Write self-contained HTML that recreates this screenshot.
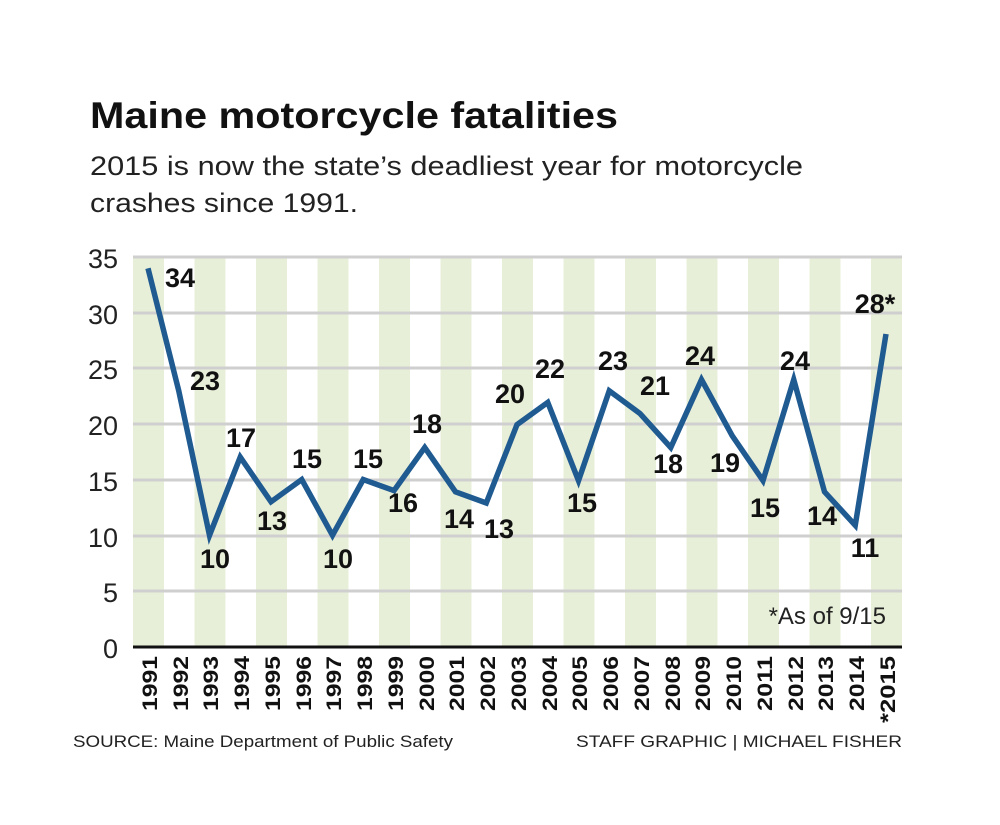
<!DOCTYPE html>
<html><head><meta charset="utf-8"><style>
body{margin:0;background:#fff;}
svg{display:block;font-family:"Liberation Sans",sans-serif;}
</style></head><body>
<svg width="1000" height="825" viewBox="0 0 1000 825">
<text x="90" y="128" font-size="37" font-weight="bold" fill="#111" textLength="528" lengthAdjust="spacingAndGlyphs">Maine motorcycle fatalities</text>
<text x="90" y="175" font-size="27" fill="#222" textLength="713" lengthAdjust="spacingAndGlyphs">2015 is now the state’s deadliest year for motorcycle</text>
<text x="90" y="212" font-size="27" fill="#222" textLength="268" lengthAdjust="spacingAndGlyphs">crashes since 1991.</text>
<g fill="#e8efd8">
<rect x="133" y="256" width="31" height="391"/><rect x="194.5" y="256" width="31" height="391"/><rect x="256" y="256" width="31" height="391"/><rect x="317.5" y="256" width="31" height="391"/><rect x="379" y="256" width="31" height="391"/><rect x="440.5" y="256" width="31" height="391"/><rect x="502" y="256" width="31" height="391"/><rect x="563.5" y="256" width="31" height="391"/><rect x="625" y="256" width="31" height="391"/><rect x="686.5" y="256" width="31" height="391"/><rect x="748" y="256" width="31" height="391"/><rect x="809.5" y="256" width="31" height="391"/><rect x="871" y="256" width="31" height="391"/>
</g>
<g stroke="#cfcfcf" stroke-width="3">
<line x1="133" x2="902" y1="257" y2="257"/><line x1="133" x2="902" y1="313" y2="313"/><line x1="133" x2="902" y1="368" y2="368"/><line x1="133" x2="902" y1="424" y2="424"/><line x1="133" x2="902" y1="480" y2="480"/><line x1="133" x2="902" y1="536" y2="536"/><line x1="133" x2="902" y1="591" y2="591"/>
</g>
<line x1="133" x2="902" y1="647" y2="647" stroke="#111" stroke-width="3"/>
<g font-size="27" fill="#222" text-anchor="end">
<text x="118" y="268">35</text><text x="118" y="324">30</text><text x="118" y="379">25</text><text x="118" y="435">20</text><text x="118" y="491">15</text><text x="118" y="547">10</text><text x="118" y="602">5</text><text x="118" y="658">0</text>
</g>
<polyline fill="none" stroke="#1f5a91" stroke-width="5.5" stroke-linejoin="miter" points="148,268.3 178.75,390.8 209.5,535.3 240.25,457.1 271,501.8 301.75,479.5 332.5,535.3 363.25,479.5 394,490.6 424.75,447.5 455.5,491.8 486.25,503 517,424.6 547.75,402.4 578.5,480.6 609.25,390.8 640,413.5 670.75,447.5 701.5,379.6 732.25,435.8 763,480.6 793.75,379.6 824.5,491.8 855.25,525.3 886,334"/>
<g font-size="27" font-weight="bold" fill="#111" text-anchor="middle">
<text x="180" y="287">34</text><text x="205" y="390">23</text><text x="215" y="568">10</text><text x="241" y="447">17</text><text x="272" y="530">13</text><text x="307" y="468">15</text><text x="338" y="568">10</text><text x="368" y="468">15</text><text x="403" y="512">16</text><text x="427" y="433">18</text><text x="459" y="528">14</text><text x="499" y="538">13</text><text x="510" y="403">20</text><text x="550" y="378">22</text><text x="582" y="512">15</text><text x="613" y="370">23</text><text x="655" y="395">21</text><text x="668" y="473">18</text><text x="700" y="365">24</text><text x="725" y="472">19</text><text x="765" y="517">15</text><text x="795" y="370">24</text><text x="822" y="525">14</text><text x="865" y="557">11</text><text x="875" y="313">28*</text>
</g>
<text x="886" y="624" font-size="24" fill="#222" text-anchor="end">*As of 9/15</text>
<g font-size="21" font-weight="bold" fill="#111" text-anchor="end">
<text transform="translate(157,656) rotate(-90)" textLength="55" lengthAdjust="spacingAndGlyphs">1991</text>
<text transform="translate(188,656) rotate(-90)" textLength="55" lengthAdjust="spacingAndGlyphs">1992</text>
<text transform="translate(218,656) rotate(-90)" textLength="55" lengthAdjust="spacingAndGlyphs">1993</text>
<text transform="translate(249,656) rotate(-90)" textLength="55" lengthAdjust="spacingAndGlyphs">1994</text>
<text transform="translate(280,656) rotate(-90)" textLength="55" lengthAdjust="spacingAndGlyphs">1995</text>
<text transform="translate(311,656) rotate(-90)" textLength="55" lengthAdjust="spacingAndGlyphs">1996</text>
<text transform="translate(341,656) rotate(-90)" textLength="55" lengthAdjust="spacingAndGlyphs">1997</text>
<text transform="translate(372,656) rotate(-90)" textLength="55" lengthAdjust="spacingAndGlyphs">1998</text>
<text transform="translate(403,656) rotate(-90)" textLength="55" lengthAdjust="spacingAndGlyphs">1999</text>
<text transform="translate(434,656) rotate(-90)" textLength="55" lengthAdjust="spacingAndGlyphs">2000</text>
<text transform="translate(464,656) rotate(-90)" textLength="55" lengthAdjust="spacingAndGlyphs">2001</text>
<text transform="translate(495,656) rotate(-90)" textLength="55" lengthAdjust="spacingAndGlyphs">2002</text>
<text transform="translate(526,656) rotate(-90)" textLength="55" lengthAdjust="spacingAndGlyphs">2003</text>
<text transform="translate(557,656) rotate(-90)" textLength="55" lengthAdjust="spacingAndGlyphs">2004</text>
<text transform="translate(587,656) rotate(-90)" textLength="55" lengthAdjust="spacingAndGlyphs">2005</text>
<text transform="translate(618,656) rotate(-90)" textLength="55" lengthAdjust="spacingAndGlyphs">2006</text>
<text transform="translate(649,656) rotate(-90)" textLength="55" lengthAdjust="spacingAndGlyphs">2007</text>
<text transform="translate(680,656) rotate(-90)" textLength="55" lengthAdjust="spacingAndGlyphs">2008</text>
<text transform="translate(710,656) rotate(-90)" textLength="55" lengthAdjust="spacingAndGlyphs">2009</text>
<text transform="translate(741,656) rotate(-90)" textLength="55" lengthAdjust="spacingAndGlyphs">2010</text>
<text transform="translate(772,656) rotate(-90)" textLength="55" lengthAdjust="spacingAndGlyphs">2011</text>
<text transform="translate(803,656) rotate(-90)" textLength="55" lengthAdjust="spacingAndGlyphs">2012</text>
<text transform="translate(833,656) rotate(-90)" textLength="55" lengthAdjust="spacingAndGlyphs">2013</text>
<text transform="translate(864,656) rotate(-90)" textLength="55" lengthAdjust="spacingAndGlyphs">2014</text>
<text transform="translate(895,656) rotate(-90)" textLength="67" lengthAdjust="spacingAndGlyphs">*2015</text>
</g>
<text x="73" y="747" font-size="17" fill="#222" textLength="380" lengthAdjust="spacingAndGlyphs">SOURCE: Maine Department of Public Safety</text>
<text x="902" y="747" font-size="17" fill="#222" text-anchor="end" textLength="326" lengthAdjust="spacingAndGlyphs">STAFF GRAPHIC | MICHAEL FISHER</text>
</svg>
</body></html>
